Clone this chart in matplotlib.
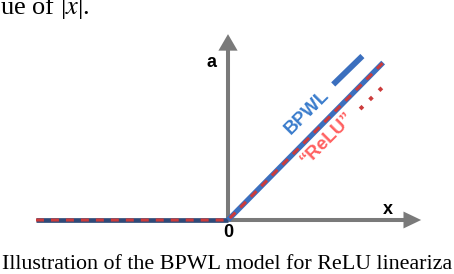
import matplotlib.pyplot as plt
import numpy as np

# ReLU / BPWL curve (data units, origin at the axes cross)
relu_x = [-5.0, 0.0, 4.04]
relu_y = [0.0, 0.0, 4.1]

# little "legend" strokes next to the labels
bpwl_key_x = [2.74, 3.5]
bpwl_key_y = [3.53, 4.27]
relu_key_x = [3.44, 4.14]
relu_key_y = [2.89, 3.57]

# axis arrow lengths
x_axis_len = 5.03
y_axis_len = 4.84

top_text = 'ue of |$x$|.'
caption = 'Illustration of the BPWL model for ReLU lineariza'

W, H = 454, 274
PX = 38.4           # pixels per data unit
OX, OY = 228, 220   # origin in pixels (from top left)

plt.rcParams['mathtext.fontset'] = 'stix'

fig = plt.figure(figsize=(W / 100, H / 100), dpi=100)
ax = fig.add_axes([0, 0, 1, 1])
ax.set_xlim(-OX / PX, (W - OX) / PX)
ax.set_ylim((OY - H) / PX, OY / PX)
ax.axis('off')

gray = '#7a7a7a'
blue = '#3b6fbe'
navy = '#2f4a78'
red = '#cc3b3b'
pink = '#ff6060'

# axes arrows
ax.arrow(0, -0.05, 0, y_axis_len + 0.05, width=0.105, head_width=0.5, head_length=0.43,
         length_includes_head=True, color=gray, lw=0, zorder=1)
ax.arrow(0, 0, x_axis_len, 0, width=0.105, head_width=0.44, head_length=0.46,
         length_includes_head=True, color=gray, lw=0, zorder=1)

# BPWL (solid) and ReLU (dashed) on top of each other
rx = np.array(relu_x)
ry = np.array(relu_y)
ax.plot(rx[rx <= 0], ry[rx <= 0], color=navy, lw=3.4, solid_capstyle='butt', zorder=2)
ax.plot(rx[rx >= 0], ry[rx >= 0], color=blue, lw=3.8, solid_capstyle='butt', zorder=2)
ax.plot(relu_x, relu_y, color=red, lw=2.2, dashes=(2.6, 2.3), zorder=3)

ax.plot(bpwl_key_x, bpwl_key_y, color=blue, lw=4.2, solid_capstyle='butt', zorder=2)
ax.plot(relu_key_x, relu_key_y, color=red, lw=2.8, dashes=(1.0, 2.4), zorder=3)

ax.text(2.06, 2.8, 'BPWL', rotation=45, color='#3a7ccc', fontsize=13.5, fontweight='bold',
        family='Liberation Sans', ha='center', va='center', rotation_mode='anchor')
ax.text(2.6, 2.12, '\u201cReLU\u201d', rotation=45, color=pink, fontsize=13.5, fontweight='bold',
        family='Liberation Sans', ha='center', va='center', rotation_mode='anchor')

ax.text(-0.42, 4.1, 'a', fontsize=13, fontweight='bold', family='Liberation Sans',
        ha='center', va='center')
ax.text(4.16, 0.28, 'x', fontsize=13, fontweight='bold', family='Liberation Sans',
        ha='center', va='center')
ax.text(0.02, -0.33, '0', fontsize=13, fontweight='bold', family='Liberation Sans',
        ha='center', va='center')

fig.text(0.0, 1 - 14 / H, top_text, fontsize=19, family='Liberation Serif',
         ha='left', va='baseline')
fig.text(2 / W, 1 - 269 / H, caption, fontsize=15.8, family='Liberation Serif',
         ha='left', va='baseline')

fig.savefig('out.png', dpi=100)
